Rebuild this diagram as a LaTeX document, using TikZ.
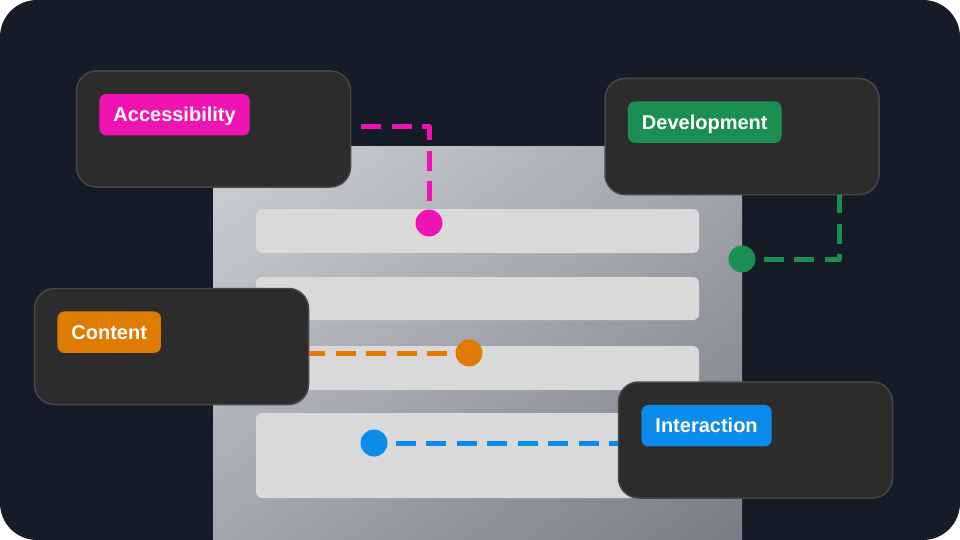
\documentclass[tikz,border=0pt]{standalone}
\usepackage{fontspec}
\setmainfont{Liberation Sans}
\usetikzlibrary{positioning,shadings}
\definecolor{nightbg}{HTML}{151B27}
\definecolor{cardfill}{HTML}{2C2C2C}
\definecolor{cardedge}{HTML}{474747}
\definecolor{rowgray}{HTML}{D9D9D9}
\definecolor{panellight}{HTML}{CDD0D3}
\definecolor{panelmid}{HTML}{A3A6AB}
\definecolor{paneldark}{HTML}{787C84}
\definecolor{accpink}{HTML}{F013B3}
\definecolor{devgreen}{HTML}{1B8F52}
\definecolor{conorange}{HTML}{DF7B03}
\definecolor{intblue}{HTML}{0B8BEA}

\begin{document}
\begin{tikzpicture}[
    x=1pt,y=-1pt,
    card/.style={rectangle,rounded corners=20pt,draw=cardedge,fill=cardfill,line width=1.5pt,
      minimum width=274pt,minimum height=116pt},
    pill/.style={rectangle,rounded corners=7pt,inner xsep=14pt,minimum height=41.5pt,text depth=0pt,
      text=white,font=\fontsize{20}{24}\selectfont\bfseries},
    row/.style={rectangle,rounded corners=6pt,fill=rowgray,minimum width=443pt,inner sep=0pt},
    link/.style={line width=5pt,line join=round,dash pattern=on 20pt off 10.5pt,dash phase=22.5pt},
    dot/.style={circle,inner sep=0pt,minimum size=27pt}
  ]
    % frame
    \fill[white] (0,0) rectangle (960,540);
    \useasboundingbox (0,0) rectangle (960,540);
    \fill[nightbg,rounded corners=37pt] (0,0) rectangle (960,540);

    % page mock-up
    \shade[upper left=panellight,upper right=panelmid,lower left=panelmid,lower right=paneldark]
      (213,147) rectangle (742,540);
    \node[row,minimum height=44pt] (row1) at (477.5,231) {};
    \node[row,minimum height=43pt] (row2) at (477.5,298.5) {};
    \node[row,minimum height=44pt] (row3) at (477.5,368) {};
    \node[row,minimum height=85pt] (row4) at (477.5,455.5) {};

    % cards
    \node[card] (acc) at (213.5,129) {};
    \node[card] (dev) at (742,136.5) {};
    \node[card] (con) at (171.5,346.5) {};
    \node[card] (int) at (755.5,440) {};

    \node[pill,fill=accpink,below right=23.5pt and 23.5pt of acc.north west] (acctag) {Accessibility};
    \node[pill,fill=devgreen,below right=23.5pt and 23.5pt of dev.north west] (devtag) {Development};
    \node[pill,fill=conorange,below right=23.5pt and 23.5pt of con.north west] (contag) {Content};
    \node[pill,fill=intblue,below right=23.5pt and 23.5pt of int.north west] (inttag) {Interaction};

    % markers and links
    \node[dot,fill=accpink] (dotacc) at (429,223) {};
    \node[dot,fill=devgreen] (dotdev) at (742,259) {};
    \node[dot,fill=conorange] (dotcon) at (469,353) {};
    \node[dot,fill=intblue] (dotint) at (374,443) {};
    \coordinate (devdrop) at ([xshift=-40pt]dev.south east);

    \draw[link,accpink] (dotacc) |- ([yshift=2pt]acc.east);
    \draw[link,devgreen] (dotdev) -| (devdrop);
    \draw[link,conorange] (dotcon) -- (dotcon -| con.east);
    \draw[link,intblue] (dotint) -- (dotint -| int.west);
  \end{tikzpicture}
\end{document}
